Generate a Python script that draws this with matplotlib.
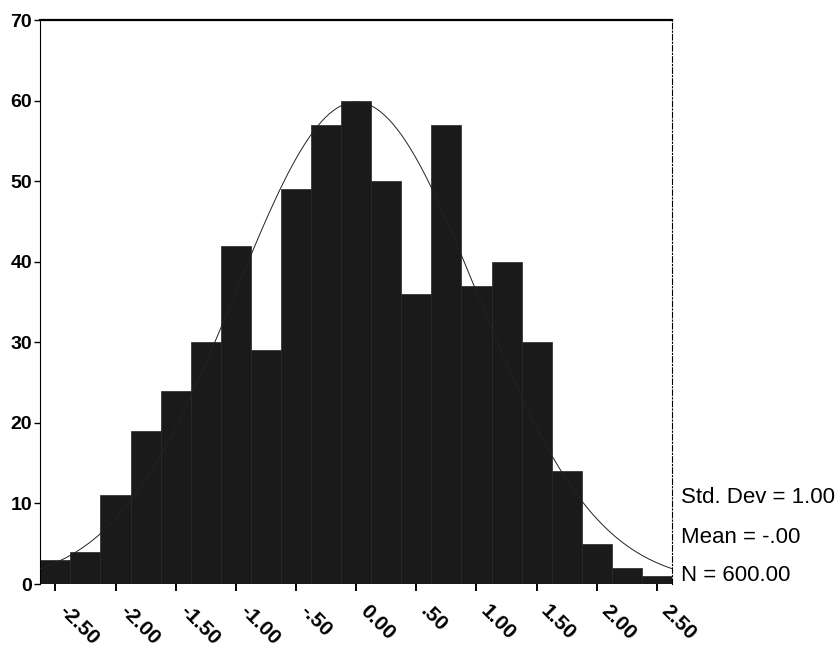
import numpy as np
import matplotlib
matplotlib.use('Agg')
import matplotlib.pyplot as plt
import matplotlib.transforms as mtrans

plt.rcParams['font.family'] = ['Liberation Sans', 'DejaVu Sans']

# histogram counts, bin centres every .25
bin_centers = [-2.50, -2.25, -2.00, -1.75, -1.50, -1.25, -1.00, -0.75, -0.50, -0.25,
               0.00, 0.25, 0.50, 0.75, 1.00, 1.25, 1.50, 1.75, 2.00, 2.25, 2.50]
counts = [3, 4, 11, 19, 24, 30, 42, 29, 49, 57,
          60, 50, 36, 57, 37, 40, 30, 14, 5, 2, 1]
bin_width = 0.25

xtick_vals = [-2.5, -2.0, -1.5, -1.0, -0.5, 0.0, 0.5, 1.0, 1.5, 2.0, 2.5]
xtick_labels = ['-2.50', '-2.00', '-1.50', '-1.00', '-.50', '0.00', '.50',
                '1.00', '1.50', '2.00', '2.50']
ytick_vals = [0, 10, 20, 30, 40, 50, 60, 70]

std_dev = 1.00
mean = 0.00
n_total = 600

fig = plt.figure(figsize=(8.4, 6.5), dpi=100)
ax = fig.add_axes([0.048, 0.1015, 0.752, 0.8675])

ax.bar(bin_centers, counts, width=bin_width, color='#1a1a1a',
       edgecolor='#262626', linewidth=0.5, zorder=2)

# fitted normal curve
xs = np.linspace(-2.625, 2.625, 300)
ys = n_total * bin_width * np.exp(-0.5 * ((xs - mean) / std_dev) ** 2) / (std_dev * np.sqrt(2 * np.pi))
ax.plot(xs, ys, color='#222222', linewidth=0.7, zorder=3)

ax.set_xlim(-2.625, 2.625)
ax.set_ylim(0, 70)

ax.set_yticks(ytick_vals)
ax.set_yticklabels([str(v) for v in ytick_vals], fontsize=14, fontweight='bold')
ax.set_xticks(xtick_vals)
ax.set_xticklabels(xtick_labels, fontsize=15, fontweight='bold', rotation=-45,
                   ha='left', va='center', rotation_mode='anchor')
ax.tick_params(axis='x', direction='out', length=5, width=1.4, pad=12)
ax.tick_params(axis='y', direction='out', length=4, width=1, pad=2)
shift = mtrans.ScaledTranslation(0.07, 0, fig.dpi_scale_trans)
for lab in ax.get_xticklabels():
    lab.set_transform(lab.get_transform() + shift)

ax.spines['top'].set_linewidth(1.6)
ax.spines['left'].set_linewidth(0.8)
ax.spines['left'].set_linestyle((0, (4, 1)))
ax.spines['right'].set_linewidth(0.8)
ax.spines['right'].set_linestyle((0, (5, 2, 1, 2)))
ax.spines['bottom'].set_visible(False)

fig.text(0.811, 0.235, 'Std. Dev = 1.00', fontsize=16, va='center')
fig.text(0.811, 0.173, 'Mean = -.00', fontsize=16, va='center')
fig.text(0.811, 0.115, 'N = 600.00', fontsize=16, va='center')

fig.savefig('out.png', dpi=100)
